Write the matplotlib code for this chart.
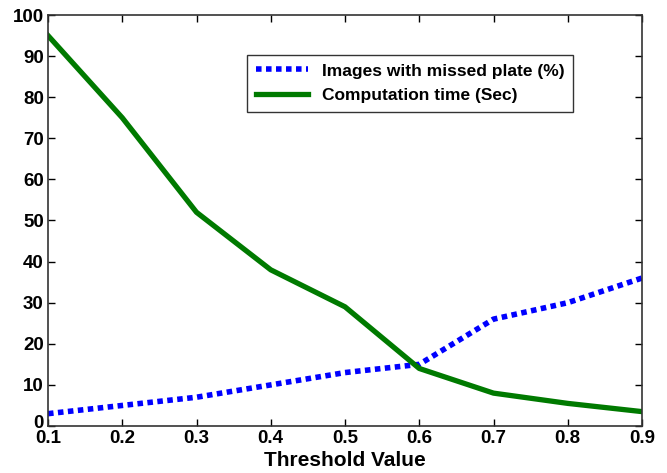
import matplotlib
matplotlib.use("Agg")
import matplotlib.pyplot as plt
import matplotlib.transforms as mtransforms

thresholds = [0.1, 0.2, 0.3, 0.4, 0.5, 0.6, 0.7, 0.8, 0.9]
missed_pct = [3, 5, 7, 10, 13, 15, 26, 30, 36]
comp_time = [95, 75, 52, 38, 29, 14, 8, 5.5, 3.5]
xticks = [0.1, 0.2, 0.3, 0.4, 0.5, 0.6, 0.7, 0.8, 0.9]
yticks = list(range(0, 101, 10))

plt.rcParams['font.family'] = ['Liberation Sans', 'DejaVu Sans']
plt.rcParams['font.weight'] = 'bold'

fig = plt.figure(figsize=(6.67, 4.73), dpi=100)
ax = fig.add_axes([48/667, 1-426/473, (642-48)/667, (426-15)/473])

ax.plot(thresholds, missed_pct, color='#0000ff', linestyle=(0, (1, 0.8)), linewidth=4,
        label='Images with missed plate (%)')
ax.plot(thresholds, comp_time, color='#007a00', linestyle='-', linewidth=3.8,
        label='Computation time (Sec)')

ax.set_xlim(0.1, 0.9)
ax.set_ylim(0, 100)
ax.set_xticks(xticks)
ax.set_xticklabels([f"{v:g}" for v in xticks], fontsize=13.5, fontweight='bold')
ax.set_yticks(yticks)
ax.set_yticklabels([str(v) for v in yticks], fontsize=13.5, fontweight='bold')
ax.tick_params(direction='in', top=True, right=True, length=5, width=1, pad=3)
for s in ax.spines.values():
    s.set_linewidth(1.2)
    s.set_color('#333333')
ax.set_xlabel('Threshold Value', fontsize=15, fontweight='bold', labelpad=3)

# nudge the y "0" label up slightly, as in the reference
zero_lbl = ax.get_yticklabels()[0]
zero_lbl.set_transform(zero_lbl.get_transform() +
                       mtransforms.ScaledTranslation(0, 5/100, fig.dpi_scale_trans))

leg = ax.legend(loc='upper right', bbox_to_anchor=((582-48)/594, (426-46)/411),
                fontsize=12.5, frameon=True, fancybox=False, edgecolor='black',
                handlelength=3, borderpad=0.5, labelspacing=0.55)
leg.get_frame().set_linewidth(1)
for t in leg.get_texts():
    t.set_fontweight('bold')

fig.savefig('out.png', dpi=100)
